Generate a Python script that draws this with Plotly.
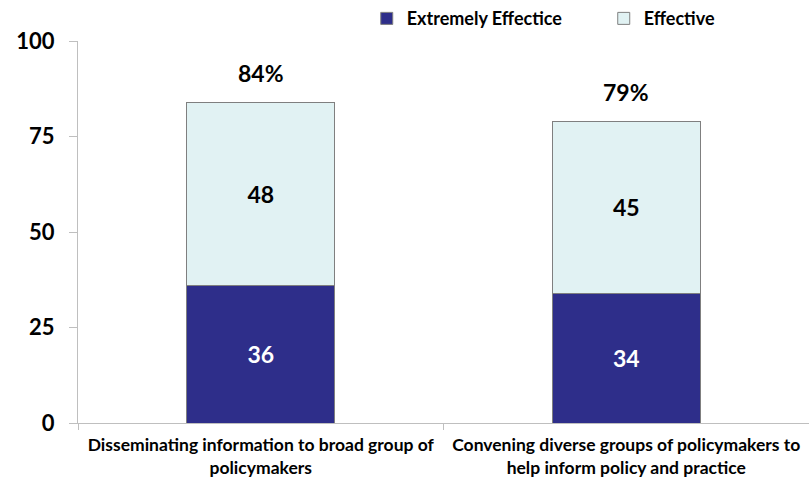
import plotly.graph_objects as go

categories = ["Disseminating information to broad group of<br>policymakers",
              "Convening diverse groups of policymakers to<br>help inform policy and practice"]
extremely = [36, 34]
effective = [48, 45]
totals_pct = ["84%", "79%"]
series_names = ["Extremely Effectice", "Effective"]

FONT = "Lato"
fig = go.Figure()
fig.add_trace(go.Bar(
    x=categories, y=extremely, name=series_names[0],
    marker=dict(color="#2E2E8A", line=dict(color="#7F7F7F", width=1)),
    text=[str(v) for v in extremely], textposition="inside", insidetextanchor="middle",
    textfont=dict(color="white", size=23, family=FONT, weight="bold"),
    width=0.405,
))
fig.add_trace(go.Bar(
    x=categories, y=effective, name=series_names[1],
    marker=dict(color="#E1F2F3", line=dict(color="#7F7F7F", width=1)),
    text=[str(v) for v in effective], textposition="inside", insidetextanchor="middle",
    textfont=dict(color="black", size=23, family=FONT, weight="bold"),
    width=0.405,
))
totals = [a + b for a, b in zip(extremely, effective)]
for c, t, lab in zip(categories, totals, totals_pct):
    fig.add_annotation(x=c, y=t, text=lab, showarrow=False, yshift=29,
                       font=dict(size=23, family=FONT, color="black", weight="bold"))

fig.update_layout(
    barmode="stack",
    width=809, height=487,
    margin=dict(l=78, r=0, t=41, b=64, autoexpand=False),
    plot_bgcolor="white", paper_bgcolor="white",
    font=dict(family=FONT, color="black"),
    showlegend=True,
    legend=dict(orientation="h", x=0.395, y=1.01, xanchor="left", yanchor="bottom",
                font=dict(size=18, family=FONT, weight="bold"), traceorder="normal",
                itemwidth=30, entrywidthmode="pixels", entrywidth=192),
    yaxis=dict(range=[0, 100], tickvals=[0, 25, 50, 75, 100], showgrid=False,
               showline=True, linecolor="#BFBFBF", linewidth=1, ticks="outside",
               ticklen=8, tickcolor="#BFBFBF", zeroline=False, ticklabelstandoff=10,
               tickfont=dict(size=22, family=FONT, weight="bold")),
    xaxis=dict(showline=True, linecolor="#BFBFBF", linewidth=1, ticks="outside",
               tickson="boundaries", ticklen=6, tickcolor="#BFBFBF", ticklabelstandoff=6,
               tickfont=dict(size=17.5, family=FONT, weight="bold")),
)
fig.write_html("out.html")
